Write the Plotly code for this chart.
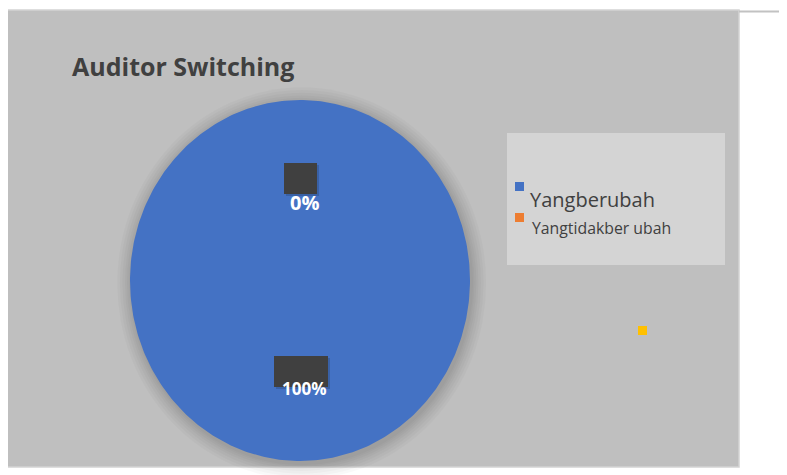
import numpy as np
import plotly.graph_objects as go

# ---- data ----
title_text = "Auditor Switching"
labels = ["Yangberubah", "Yangtidakber ubah"]
values = [100, 0]
slice_colors = ["#4472C4", "#ED7D31"]
extra_marker_color = "#FFC000"

# page offset (browser body margin) compensation
OFF = 8
W, H = 787 - OFF, 475 - OFF
def px(x):
    return (x - OFF) / W
def py(y):
    return 1 - (y - OFF) / H

# pie geometry (page pixels)
cx, cy = 300.0, 280.5
rx, ry = 170.0, 180.5

fig = go.Figure()

total = float(sum(values))
start = 90.0
pct_text = []
for lab, val, col in zip(labels, values, slice_colors):
    frac = val / total
    sweep = frac * 360.0
    n = max(2, int(np.ceil(sweep / 1.0)) + 1)
    th = np.radians(np.linspace(start, start - sweep, n))
    xs = np.concatenate([[0.0], np.cos(th), [0.0]])
    ys = np.concatenate([[0.0], np.sin(th), [0.0]])
    fig.add_trace(go.Scatter(
        x=xs, y=ys, mode="lines", fill="toself", fillcolor=col,
        line=dict(width=0, color=col), name=lab, hoverinfo="name",
        showlegend=False,
    ))
    pct_text.append(f"{round(frac*100)}%")
    start -= sweep

shapes = []
# chart area background
shapes.append(dict(type="rect", xref="paper", yref="paper",
                   x0=px(7), x1=px(739), y0=py(467), y1=py(10),
                   fillcolor="#bfbfbf", line=dict(color="#d3d3d3", width=1.5),
                   layer="below"))
shapes.append(dict(type="line", xref="paper", yref="paper",
                   x0=px(739), x1=px(787), y0=py(11.5), y1=py(11.5),
                   line=dict(color="#c2c2c2", width=2), layer="below"))
shapes.append(dict(type="line", xref="paper", yref="paper",
                   x0=px(7), x1=px(7), y0=py(467), y1=py(475),
                   line=dict(color="#c8c8c8", width=1.5), layer="below"))
# soft shadow around pie
for d in [0.085, 0.07, 0.055, 0.04, 0.028, 0.016, 0.008]:
    shapes.append(dict(type="circle", xref="x", yref="y",
                       x0=-1 - d + 0.01, x1=1 + d + 0.01,
                       y0=-1 - d - 0.015, y1=1 + d - 0.015,
                       fillcolor="rgba(0,0,0,0.025)", line=dict(width=0),
                       layer="below"))
# dark label boxes
for (x0, y0, x1, y1) in [(284, 163, 317, 194), (274, 356, 328, 387)]:
    shapes.append(dict(type="rect", xref="paper", yref="paper",
                       x0=px(x0 + 2), x1=px(x1 + 2), y0=py(y1 + 2), y1=py(y0 + 2),
                       fillcolor="rgba(0,0,0,0.15)", line=dict(width=0), layer="above"))
    shapes.append(dict(type="rect", xref="paper", yref="paper",
                       x0=px(x0), x1=px(x1), y0=py(y1), y1=py(y0),
                       fillcolor="#404040", line=dict(width=0), layer="above"))
# legend box and swatches
shapes.append(dict(type="rect", xref="paper", yref="paper",
                   x0=px(507), x1=px(725), y0=py(265), y1=py(133),
                   fillcolor="#d4d4d4", line=dict(width=0), layer="above"))
for col, (x0, y0) in zip(slice_colors, [(515, 182), (515, 213)]):
    shapes.append(dict(type="rect", xref="paper", yref="paper",
                       x0=px(x0), x1=px(x0 + 9), y0=py(y0 + 9), y1=py(y0),
                       fillcolor=col, line=dict(width=0), layer="above"))
shapes.append(dict(type="rect", xref="paper", yref="paper",
                   x0=px(638), x1=px(647), y0=py(335), y1=py(326),
                   fillcolor=extra_marker_color, line=dict(width=0), layer="above"))

annotations = []
annotations.append(dict(text=f"<b>{title_text}</b>", xref="paper", yref="paper",
                        x=px(70), y=py(66), xanchor="left", yanchor="middle",
                        showarrow=False,
                        font=dict(family="Open Sans", size=25, color="#404040")))
# data labels: the small (0%) slice label sits at the top, the large one lower
label_spots = {0: (304, 388, 17), 1: (304, 202, 20)}
for i, txt in enumerate(pct_text):
    lx, ly, fs = label_spots[i]
    annotations.append(dict(text=f"<b>{txt}</b>", xref="paper", yref="paper",
                            x=px(lx), y=py(ly), xanchor="center", yanchor="middle",
                            showarrow=False,
                            font=dict(family="Open Sans", size=fs, color="white")))
# legend texts
for lab, (lx, ly, fs) in zip(labels, [(528, 199, 20), (530, 228, 15.8)]):
    annotations.append(dict(text=lab, xref="paper", yref="paper",
                            x=px(lx), y=py(ly), xanchor="left", yanchor="middle",
                            showarrow=False,
                            font=dict(family="Open Sans", size=fs, color="#404040")))

# axis ranges in units of the pie radius, mapped to page pixels
fig.update_layout(
    width=W, height=H,
    margin=dict(l=0, r=0, t=0, b=0),
    paper_bgcolor="white", plot_bgcolor="rgba(0,0,0,0)",
    xaxis=dict(range=[-(cx - OFF) / rx, (787 - cx) / rx], visible=False,
               fixedrange=True, domain=[0, 1]),
    yaxis=dict(range=[-(475 - cy) / ry, (cy - OFF) / ry], visible=False,
               fixedrange=True, domain=[0, 1]),
    shapes=shapes, annotations=annotations, showlegend=False,
)

fig.write_html("out.html")
